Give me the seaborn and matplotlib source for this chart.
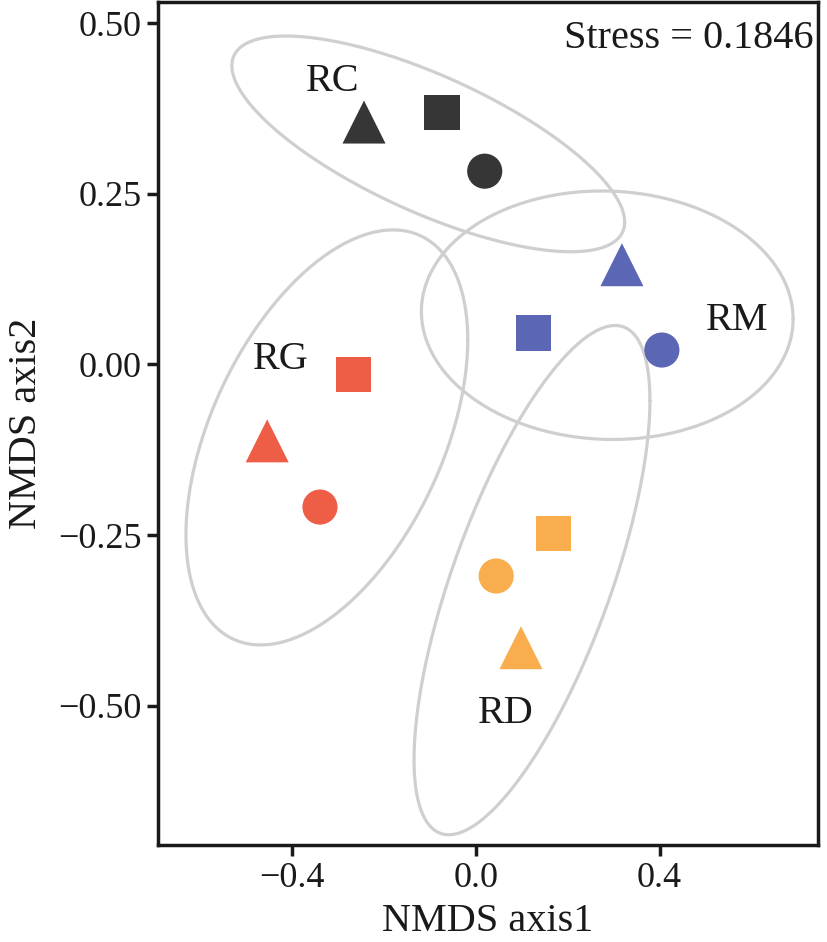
import numpy as np
import pandas as pd
import matplotlib
matplotlib.use("Agg")
import matplotlib.pyplot as plt
import seaborn as sns

# Sample scores
groups = ["RC", "RC", "RC", "RM", "RM", "RM", "RG", "RG", "RG", "RD", "RD", "RD"]
samples = ["S1", "S2", "S3"] * 4
nmds1 = [-0.244, -0.074, 0.019, 0.318, 0.125, 0.405, -0.455, -0.267, -0.340, 0.098, 0.168, 0.044]
nmds2 = [0.355, 0.369, 0.283, 0.146, 0.046, 0.021, -0.112, -0.015, -0.209, -0.415, -0.248, -0.310]

# Ellipse per group: centre, spread along each axis, correlation
ell_group = ["RC", "RM", "RG", "RD"]
ell_cx = [-0.104, 0.286, -0.325, 0.122]
ell_cy = [0.323, 0.072, -0.107, -0.316]
ell_sx = [0.428, 0.405, 0.307, 0.257]
ell_sy = [0.158, 0.182, 0.304, 0.373]
ell_rho = [-0.725, -0.03, 0.47, 0.705]

# Group label positions
label_x = [-0.312, 0.569, -0.425, 0.064]
label_y = [0.415, 0.064, 0.007, -0.512]

palette = {"RC": "#363636", "RM": "#5B66B4", "RG": "#EE5E47", "RD": "#F9AD4D"}
markers = {"S1": "^", "S2": "s", "S3": "o"}

xticks = [-0.4, 0.0, 0.4]
xticklabels = ["\u22120.4", "0.0", "0.4"]
yticks = [-0.50, -0.25, 0.00, 0.25, 0.50]
yticklabels = ["\u22120.50", "\u22120.25", "0.00", "0.25", "0.50"]

df = pd.DataFrame({"group": groups, "sample": samples, "NMDS1": nmds1, "NMDS2": nmds2})

sns.set_style("ticks")
plt.rcParams['font.family'] = ['Liberation Serif', 'DejaVu Serif']

fig = plt.figure(figsize=(8.27, 9.42), dpi=100)
ax = fig.add_axes([0.191, 0.103, 0.798, 0.895])

# ellipses
t = np.linspace(0, 2 * np.pi, 300)
for cx, cy, sx, sy, r in zip(ell_cx, ell_cy, ell_sx, ell_sy, ell_rho):
    ex = cx + sx * np.cos(t)
    ey = cy + sy * (r * np.cos(t) + np.sqrt(1 - r ** 2) * np.sin(t))
    ax.plot(ex, ey, color="#CFCFCF", lw=2.3, zorder=1)

sizes = {"S1": 960, "S2": 640, "S3": 640}
for smp in ["S1", "S2", "S3"]:
    sub = df[df["sample"] == smp]
    sns.scatterplot(data=sub, x="NMDS1", y="NMDS2", hue="group", palette=palette,
                    marker=markers[smp], s=sizes[smp], linewidth=0, legend=False,
                    ax=ax, zorder=3)

for g, lx, ly in zip(ell_group, label_x, label_y):
    ax.text(lx, ly, g, ha="center", va="center", fontsize=29, color="#1a1a1a")

ax.text(0.735, 0.477, "Stress = 0.1846", ha="right", va="center", fontsize=29, color="#1a1a1a")

ax.set_xlim(-0.693, 0.745)
ax.set_ylim(-0.704, 0.531)
ax.set_xticks(xticks)
ax.set_xticklabels(xticklabels)
ax.set_yticks(yticks)
ax.set_yticklabels(yticklabels)
ax.tick_params(labelsize=26, length=8, width=2.5, pad=4, colors="#1a1a1a")
for sp in ax.spines.values():
    sp.set_linewidth(2.5)
    sp.set_color("#1a1a1a")
ax.set_xlabel("NMDS axis1", fontsize=29, labelpad=6, color="#1a1a1a")
ax.set_ylabel("NMDS axis2", fontsize=29, labelpad=9, color="#1a1a1a")

fig.savefig("out.png", dpi=100)
